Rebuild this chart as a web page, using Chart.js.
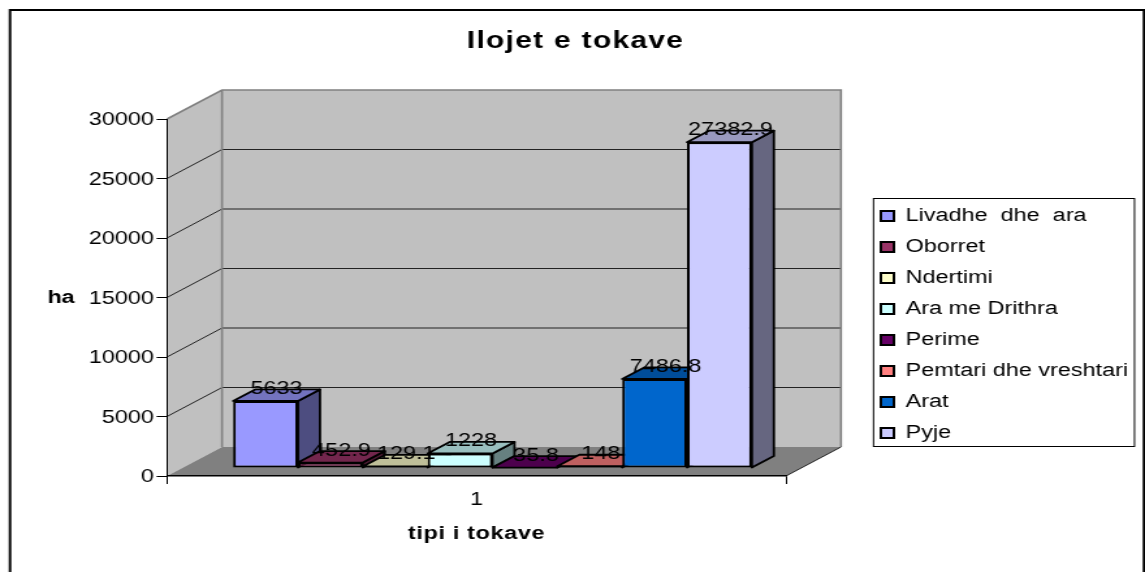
<!DOCTYPE html>
<html>
<head>
<meta charset="utf-8">
<title>Llojet e tokave</title>
<style>
    html, body { margin: 0; padding: 0; background: #fff; overflow: hidden; }
    /* the reference is stretched sideways, so the canvas is too */
    #chart { display: block; transform-origin: 0 0; transform: scaleX(1.30114); }
</style>
<script src="https://cdn.jsdelivr.net/npm/chart.js@4"></script>
</head>
<body>
<canvas id="chart" width="880" height="572"></canvas>
<script>
const categories = ['1'];
const seriesNames = ['Livadhe  dhe  ara', 'Oborret', 'Ndertimi', 'Ara me Drithra', 'Perime', 'Pemtari dhe vreshtari', 'Arat', 'Pyje'];
const seriesValues = [5633, 452.9, 129.1, 1228, 35.8, 148, 7486.8, 27382.9];
const seriesColors = ['#9999ff', '#993366', '#ffffcc', '#ccffff', '#660066', '#ff8080', '#0066cc', '#ccccff'];
const yTickStep = 5000;
const yMax = 30000;

const SX = 1145 / 880;
const FONT = '"Liberation Sans", Arial, sans-serif';

// depth of the box behind the axes and of each bar, in reference pixels
const WALL_DX = 55 / SX, WALL_DY = 29;
const BAR_DX = 22 / SX, BAR_DY = 11.5;
const PLANE_DX = 16 / SX, PLANE_DY = 8;

Chart.defaults.font.family = FONT;
Chart.defaults.color = '#000';

function shade(hex, f) {
    const n = parseInt(hex.slice(1), 16);
    const c = [n >> 16, (n >> 8) & 255, n & 255].map(v => Math.round(v * f));
    return `rgb(${c[0]},${c[1]},${c[2]})`;
}

function poly(ctx, pts, fill, stroke, lw) {
    ctx.beginPath();
    pts.forEach((p, i) => i ? ctx.lineTo(p[0], p[1]) : ctx.moveTo(p[0], p[1]));
    ctx.closePath();
    if (fill) { ctx.fillStyle = fill; ctx.fill(); }
    if (stroke) { ctx.strokeStyle = stroke; ctx.lineWidth = lw; ctx.lineJoin = 'round'; ctx.stroke(); }
}

function wrapDraw(ctx, owner, method, setup) {
    const orig = owner[method];
    owner[method] = function (...args) {
        ctx.save();
        setup(ctx);
        orig.apply(owner, args);
        ctx.restore();
    };
}

const box3d = {
    id: 'box3d',
    afterLayout(chart) {
        // legend sits in its own frame right of the plot
        const lg = chart.legend;
        lg.left = 864 / SX;
        lg.top = 194;
        lg.right = 1134 / SX;
        lg.bottom = 480;
        // title is centred on the whole picture, not on the plot
        chart.titleBlock.left = 6 / SX;
        chart.titleBlock.right = 1145 / SX;
        if (!chart.$wrapped) {
            wrapDraw(chart.ctx, chart.titleBlock, 'draw', c => { c.letterSpacing = '1px'; });
            wrapDraw(chart.ctx, chart.scales.x, 'drawTitle', c => { c.letterSpacing = '0.5px'; });
            wrapDraw(chart.ctx, chart.scales.y, 'drawLabels', c => { c.translate(0, 1.5); });
            chart.$wrapped = true;
        }
    },
    beforeDraw(chart) {
        const { ctx, chartArea: a, scales } = chart;
        ctx.save();
        // outer frame runs off the bottom of the picture
        ctx.strokeStyle = '#000';
        ctx.lineWidth = 2;
        ctx.strokeRect(10 / SX, 10, 1134 / SX, 800);

        const bl = a.left + WALL_DX, br = a.right + WALL_DX;
        const bt = a.top - WALL_DY, bb = a.bottom - WALL_DY;
        poly(ctx, [[a.left, a.top], [bl, bt], [bl, bb], [a.left, a.bottom]], '#c0c0c0');
        poly(ctx, [[bl, bt], [br, bt], [br, bb], [bl, bb]], '#c0c0c0');
        poly(ctx, [[a.left, a.bottom], [a.right, a.bottom], [br, bb], [bl, bb]], '#808080');

        // gridlines wrap around the side wall and the back wall
        ctx.strokeStyle = '#222';
        ctx.lineWidth = 1;
        scales.y.ticks.forEach(t => {
            if (t.value === 0 || t.value === yMax) return;
            const y = scales.y.getPixelForValue(t.value);
            ctx.beginPath();
            ctx.moveTo(a.left, y);
            ctx.lineTo(bl, y - WALL_DY);
            ctx.lineTo(br, y - WALL_DY);
            ctx.stroke();
        });
        ctx.strokeStyle = '#808080';
        ctx.lineWidth = 1.6;
        ctx.beginPath();
        ctx.moveTo(a.left, a.top);
        ctx.lineTo(bl, bt);
        ctx.lineTo(br, bt);
        ctx.lineTo(br, bb);
        ctx.moveTo(bl, bt);
        ctx.lineTo(bl, bb);
        ctx.stroke();
        ctx.strokeStyle = '#222';
        ctx.lineWidth = 1;
        ctx.beginPath();
        ctx.moveTo(a.right, a.bottom);
        ctx.lineTo(br, bb);
        ctx.stroke();
        ctx.restore();
    },
    beforeDatasetsDraw(chart) {
        const ctx = chart.ctx;
        // bars stand in the middle of the floor depth
        ctx.save();
        ctx.translate(PLANE_DX, -PLANE_DY);
        // side and top faces go left to right, the library then paints the fronts over them
        seriesNames.forEach((name, i) => {
            const bar = chart.getDatasetMeta(i).data[0];
            const color = seriesColors[i];
            const l = bar.x - bar.width / 2, r = bar.x + bar.width / 2;
            const top = bar.y, base = bar.base;
            poly(ctx, [[r, top], [r + BAR_DX, top - BAR_DY], [r + BAR_DX, base - BAR_DY], [r, base]], shade(color, 0.5), '#000', 1.8);
            poly(ctx, [[l, top], [l + BAR_DX, top - BAR_DY], [r + BAR_DX, top - BAR_DY], [r, top]], shade(color, 0.75), '#000', 1.8);
        });
    },
    afterDatasetsDraw(chart) {
        const ctx = chart.ctx;
        ctx.font = `18px ${FONT}`;
        ctx.fillStyle = '#000';
        ctx.textAlign = 'center';
        ctx.textBaseline = 'middle';
        chart.data.datasets.forEach((ds, i) => {
            const bar = chart.getDatasetMeta(i).data[0];
            ctx.fillText(String(ds.data[0]), bar.x + 11 / SX, bar.y - 12);
        });
        ctx.restore();
    },
    afterDraw(chart) {
        const ctx = chart.ctx;
        ctx.save();
        // horizontal value axis title, which the library would rotate
        ctx.font = `bold 18px ${FONT}`;
        ctx.fillStyle = '#000';
        ctx.textAlign = 'center';
        ctx.textBaseline = 'middle';
        ctx.fillText('ha', 61 / SX, 298);
        // legend frame
        ctx.strokeStyle = '#000';
        ctx.lineWidth = 1;
        ctx.strokeRect(873.5 / SX, 198.5, 261 / SX, 248);
        ctx.restore();
    }
};

new Chart(document.getElementById('chart'), {
    type: 'bar',
    plugins: [box3d],
    data: {
        labels: categories,
        datasets: seriesNames.map((name, i) => ({
            label: name,
            data: [seriesValues[i]],
            backgroundColor: seriesColors[i],
            borderColor: '#000',
            borderWidth: 2,
            borderSkipped: false,
            clip: false
        }))
    },
    options: {
        responsive: false,
        animation: false,
        events: [],
        categoryPercentage: 0.838,
        barPercentage: 1,
        layout: { padding: { left: 0, right: 359 / SX, top: 28, bottom: 0 } },
        plugins: {
            title: {
                display: true,
                text: 'Ilojet e tokave',
                color: '#000',
                font: { size: 23, weight: 'bold' },
                padding: { top: 0, bottom: 63.4 }
            },
            legend: {
                position: 'chartArea',
                align: 'start',
                labels: {
                    color: '#000',
                    font: { size: 18 },
                    boxWidth: 13 / SX,
                    boxHeight: 10,
                    padding: 13
                }
            },
            tooltip: { enabled: false }
        },
        scales: {
            x: {
                afterFit: s => { s.height = 96; },
                grid: { drawOnChartArea: false, color: '#000', tickLength: 8 },
                border: { color: '#000', width: 1.5 },
                ticks: { color: '#000', font: { size: 18 }, padding: 5 },
                title: {
                    display: true,
                    text: 'tipi i tokave',
                    color: '#000',
                    font: { size: 18, weight: 'bold' },
                    padding: { top: 0, bottom: 27 }
                }
            },
            y: {
                min: 0,
                max: yMax,
                afterFit: s => { s.width = 167 / SX; },
                grid: { drawOnChartArea: false, color: '#000', tickLength: 8 },
                border: { color: '#000', width: 1 },
                ticks: { stepSize: yTickStep, color: '#000', font: { size: 18 }, padding: 2, callback: v => String(v) }
            }
        }
    }
});
</script>
</body>
</html>
